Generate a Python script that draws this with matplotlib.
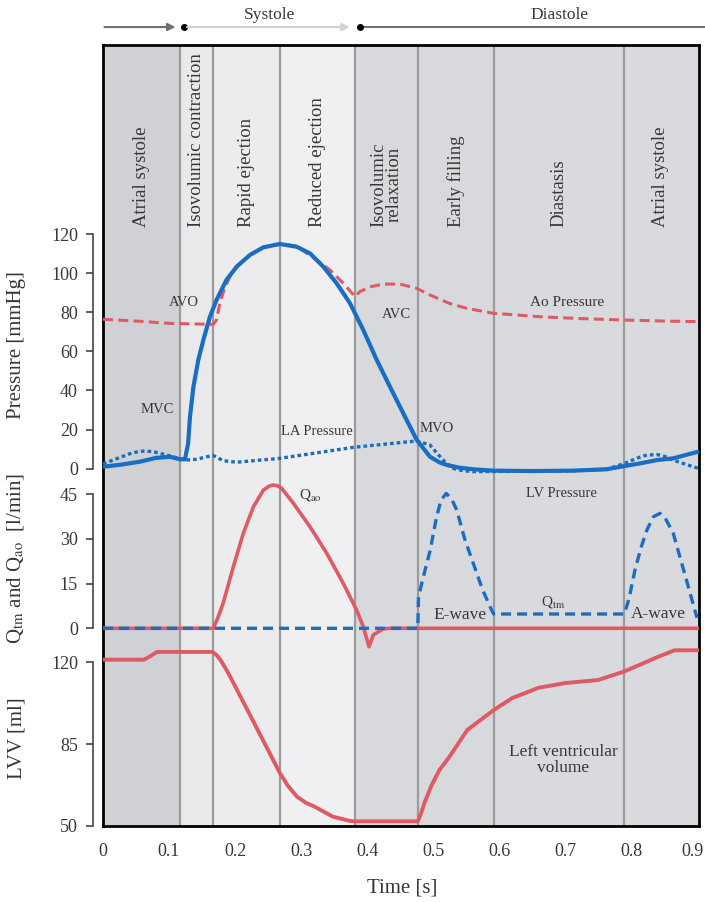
import numpy as np
import matplotlib.pyplot as plt
from matplotlib.transforms import ScaledTranslation

plt.rcParams['font.family'] = ['Liberation Serif', 'DejaVu Serif']
plt.rcParams['mathtext.fontset'] = 'stix'

# phases of the cardiac cycle
phase_names = ['Atrial systole', 'Isovolumic contraction', 'Rapid ejection', 'Reduced ejection',
               'Isovolumic\nrelaxation', 'Early filling', 'Diastasis', 'Atrial systole']
phase_edges = [0, 0.117, 0.166, 0.268, 0.382, 0.477, 0.592, 0.79, 0.903]
phase_colors = ['#d0d1d5', '#e9e9eb', '#ececee', '#f0f0f2', '#d8d9dc', '#d8d9dc', '#d9dadd', '#d9dadd']

# pressures [mmHg]
lv_t = [0.0, 0.03, 0.056, 0.08, 0.1015, 0.1167, 0.1242, 0.129, 0.1318, 0.137, 0.1444, 0.152, 0.162,
        0.172, 0.187, 0.2025, 0.2227, 0.243, 0.268, 0.2934, 0.3136, 0.3338, 0.354, 0.3742, 0.3944,
        0.4147, 0.4348, 0.455, 0.4753, 0.4955, 0.51, 0.521, 0.54, 0.561, 0.591,
        0.65, 0.712, 0.763, 0.791, 0.815, 0.839, 0.864, 0.885, 0.902]
lv_p = [1.0, 2.2, 3.6, 5.5, 6.1, 4.8, 4.8, 13, 26.6, 41.9, 55.6, 65.8, 77.7,
        86.3, 96.5, 103.3, 109.3, 113.2, 114.9, 113.5, 110.1, 103.3, 94.8, 84.6, 70.9,
        55.6, 41.9, 28.3, 14.7, 6.1, 3.2, 1.9, 0.5, -0.3, -1.0,
        -1.2, -1.0, -0.3, 1.4, 2.8, 4.4, 5.3, 7.2, 8.7]

ao_t = [0.0, 0.05, 0.1015, 0.167, 0.172, 0.177, 0.185, 0.195, 0.2076, 0.2227, 0.243, 0.268, 0.2934,
        0.3237, 0.344, 0.364, 0.3818, 0.389, 0.4045, 0.4247, 0.45, 0.4753, 0.4955, 0.525, 0.551,
        0.591, 0.662, 0.72, 0.791, 0.85, 0.9]
ao_p = [76.4, 75.5, 74.3, 73.8, 76, 84.6, 93, 99.9, 105, 109.3, 113.2, 114.9, 113.8,
        106.7, 101.6, 94.8, 88, 90.5, 93, 94.4, 94.4, 92.2, 88.8, 84.5, 82,
        79.5, 77.7, 76.8, 76, 75.5, 75.2]

la_t = [0.0, 0.026, 0.045, 0.061, 0.075, 0.086, 0.1015, 0.124, 0.142, 0.157, 0.167, 0.182, 0.2025,
        0.268, 0.379, 0.4753, 0.4955, 0.506, 0.518, 0.53, 0.545, 0.561,
        0.6, 0.7, 0.763, 0.791, 0.81, 0.824, 0.84, 0.852, 0.864, 0.885, 0.902]
la_p = [2.5, 5.8, 8.2, 9, 8.8, 7.9, 6.5, 4.4, 4.8, 6.1, 6.8, 4.1, 3.3,
        5.3, 10.9, 14.2, 12.1, 7.9, 3.5, 0.2, -1.0, -1.5,
        -1.4, -1.2, -0.3, 2.8, 5.5, 7.0, 7.2, 6.2, 4.4, 2.0, 0.2]

# flows [l/min]
qao_t = [0, 0.167, 0.174, 0.182, 0.1975, 0.2126, 0.2278, 0.243, 0.252, 0.258, 0.264, 0.2707, 0.2884,
         0.3136, 0.339, 0.364, 0.3843, 0.3944, 0.403, 0.4096, 0.4247, 0.435, 0.903]
qao_q = [0, 0, 3.5, 8.4, 20.7, 31.9, 40.8, 46.4, 47.8, 48.1, 47.9, 47.0, 42,
         34.1, 25.2, 15.1, 6.1, 0.5, -6.2, -2.2, -0.2, 0, 0]

qtm_t = [0, 0.477, 0.478, 0.485, 0.4955, 0.505, 0.512, 0.52, 0.528, 0.536, 0.548, 0.561, 0.575,
         0.589, 0.592, 0.79, 0.797, 0.806, 0.815, 0.824, 0.834, 0.844, 0.853, 0.864, 0.874, 0.884,
         0.893, 0.9]
qtm_q = [0, 0, 10.6, 17, 26, 37, 43, 45.3, 43.5, 39.7, 30, 21.8, 13,
         6, 4.8, 4.8, 10, 19.6, 27, 33, 37.5, 38.6, 36.5, 31.9, 24, 16.2,
         9, 3.5]

# left ventricular volume [ml]
lvv_t = [0, 0.062, 0.07, 0.082, 0.166, 0.172, 0.178, 0.19, 0.23, 0.268, 0.28, 0.294, 0.308, 0.321,
         0.348, 0.375, 0.382, 0.477, 0.482, 0.4877, 0.498, 0.51, 0.525, 0.552, 0.592, 0.62, 0.66,
         0.7, 0.75, 0.789, 0.815, 0.839, 0.866, 0.903]
lvv_v = [121, 121, 122.2, 124.3, 124.3, 123, 120.9, 115.2, 93.4, 72.6, 67.2, 62.5, 59.8, 58.2,
         54, 52.1, 52, 52, 55.5, 60.4, 67.5, 74, 79.6, 91, 99.5, 104.6, 109,
         111, 112.3, 115.9, 119, 122, 125, 125]

time_ticks = [0, 0.1, 0.2, 0.3, 0.4, 0.5, 0.6, 0.7, 0.8, 0.9]
time_labels = ['0', '0.1', '0.2', '0.3', '0.4', '0.5', '0.6', '0.7', '0.8', '0.9']

blue = '#196ec3'
red = '#e05a64'
txt = '#3a3636'

W, H = 705, 902
fig = plt.figure(figsize=(W / 100, H / 100), dpi=100)


def box(top, bottom):
    return [103 / W, 1 - bottom / H, 596 / W, (bottom - top) / H]


# background frame with the phases
frame = fig.add_axes(box(45, 826))
frame.set_xlim(0, 0.903)
frame.set_ylim(0, 1)
for i in range(len(phase_names)):
    frame.axvspan(phase_edges[i], phase_edges[i + 1], color=phase_colors[i], lw=0)
for e in phase_edges[1:-1]:
    frame.axvline(e, color='#9b9b9b', lw=1.6)
for s in frame.spines.values():
    s.set_color('black')
    s.set_linewidth(2)
frame.set_xticks([])
frame.set_yticks([])
for i, name in enumerate(phase_names):
    mid = (phase_edges[i] + min(phase_edges[i + 1], 0.9)) / 2
    frame.text(mid, 0.767, name, rotation=90, ha='center', va='bottom', fontsize=13.5,
               color=txt, linespacing=0.85)

# systole / diastole arrows above the frame
xt = frame.get_xaxis_transform()
frame.annotate('', xy=(0.114, 1.023), xytext=(-0.002, 1.023), xycoords=xt, textcoords=xt,
               arrowprops=dict(arrowstyle='-|>', color='#707070', lw=1.5, mutation_scale=11),
               annotation_clip=False)
frame.annotate('', xy=(0.378, 1.023), xytext=(0.123, 1.023), xycoords=xt, textcoords=xt,
               arrowprops=dict(arrowstyle='-|>', color='#d2d2d2', lw=1.5, mutation_scale=11),
               annotation_clip=False)
frame.plot([0.39, 0.912], [1.023, 1.023], color='#707070', lw=1.5, transform=xt, clip_on=False)
frame.plot([0.123, 0.39], [1.023, 1.023], 'o', color='black', ms=4, transform=xt, clip_on=False)
frame.text(0.253, 1.038, 'Systole', transform=xt, ha='center', va='center', fontsize=12.5, color=txt)
frame.text(0.692, 1.038, 'Diastole', transform=xt, ha='center', va='center', fontsize=12.5, color=txt)


def data_axes(top, bottom, ylim, ticks):
    ax = fig.add_axes(box(top, bottom))
    ax.patch.set_alpha(0)
    ax.set_xlim(0, 0.903)
    ax.set_ylim(*ylim)
    for s in ['top', 'right', 'bottom']:
        ax.spines[s].set_visible(False)
    ax.spines['left'].set_position(('outward', 7))
    ax.spines['left'].set_bounds(ticks[0], ticks[-1])
    ax.spines['left'].set_color(txt)
    ax.spines['left'].set_linewidth(1.1)
    ax.set_yticks(ticks)
    ax.tick_params(axis='y', direction='out', length=5, width=1.1, colors=txt, labelsize=13, pad=6)
    ax.tick_params(axis='x', length=0, labelbottom=False)
    return ax


# pressure panel
ax_p = data_axes(230, 478, (-4.755, 122.05), [0, 20, 40, 60, 80, 100, 120])
ax_p.plot(ao_t, ao_p, color=red, lw=2.2, ls=(0, (3.3, 1.7)))
ax_p.plot(lv_t, lv_p, color=blue, lw=3)
ax_p.plot(la_t, la_p, color=blue, lw=2.4, ls=(0, (1.1, 0.9)))
ax_p.set_ylabel('Pressure [mmHg]', fontsize=15, color=txt)
ax_p.yaxis.set_label_coords(-0.129, 0.536)
for label, x, y, fs in [('AVO', 0.123, 85, 10.5), ('MVC', 0.083, 30.5, 10.5), ('LA Pressure', 0.324, 18.8, 10.5),
                        ('AVC', 0.444, 79, 10.5), ('MVO', 0.505, 20.8, 10.5), ('Ao Pressure', 0.703, 84.8, 11)]:
    ax_p.text(x, y, label, ha='center', va='center', fontsize=fs, color=txt)

# flow panel
ax_q = data_axes(478, 655, (-8.966, 50.474), [0, 15, 30, 45])
ax_q.plot(qao_t, qao_q, color=red, lw=2.6)
ax_q.plot(qtm_t, qtm_q, color=blue, lw=2.4, ls=(0, (3.0, 1.8)))
ax_q.set_ylabel(r'Q$_{\rm tm}$ and Q$_{\rm ao}$  [l/min]', fontsize=15, color=txt)
ax_q.yaxis.set_label_coords(-0.129, 0.548)
ax_q.text(0.695, 45.4, 'LV Pressure', ha='center', va='center', fontsize=10.5, color=txt)
ax_q.text(0.314, 44.8, r'Q$_{\rm ao}$', ha='center', va='center', fontsize=11, color=txt)
ax_q.text(0.541, 4.5, 'E-wave', ha='center', va='center', fontsize=12.5, color=txt)
ax_q.text(0.682, 8.8, r'Q$_{\rm tm}$', ha='center', va='center', fontsize=11, color=txt)
ax_q.text(0.842, 4.8, 'A-wave', ha='center', va='center', fontsize=12.5, color=txt)

# volume panel
ax_v = data_axes(630, 826, (50, 133.66), [50, 85, 120])
ax_v.plot(lvv_t, lvv_v, color=red, lw=2.8)
ax_v.set_ylabel('LVV [ml]', fontsize=15, color=txt)
ax_v.yaxis.set_label_coords(-0.129, 0.449)
ax_v.text(0.697, 78.2, 'Left ventricular\nvolume', ha='center', va='center', fontsize=12.5,
          color=txt, linespacing=1.0)
ax_v.set_xticks(time_ticks)
ax_v.set_xticklabels(time_labels)
ax_v.tick_params(axis='x', length=0, labelbottom=True, labelsize=13, pad=12, colors=txt)
last = ax_v.get_xticklabels()[-1]
last.set_transform(last.get_transform() + ScaledTranslation(-0.05, 0, fig.dpi_scale_trans))

fig.text(402 / W, 1 - 888 / H, 'Time [s]', ha='center', va='center', fontsize=15, color=txt)

plt.savefig('out.png', dpi=100)
